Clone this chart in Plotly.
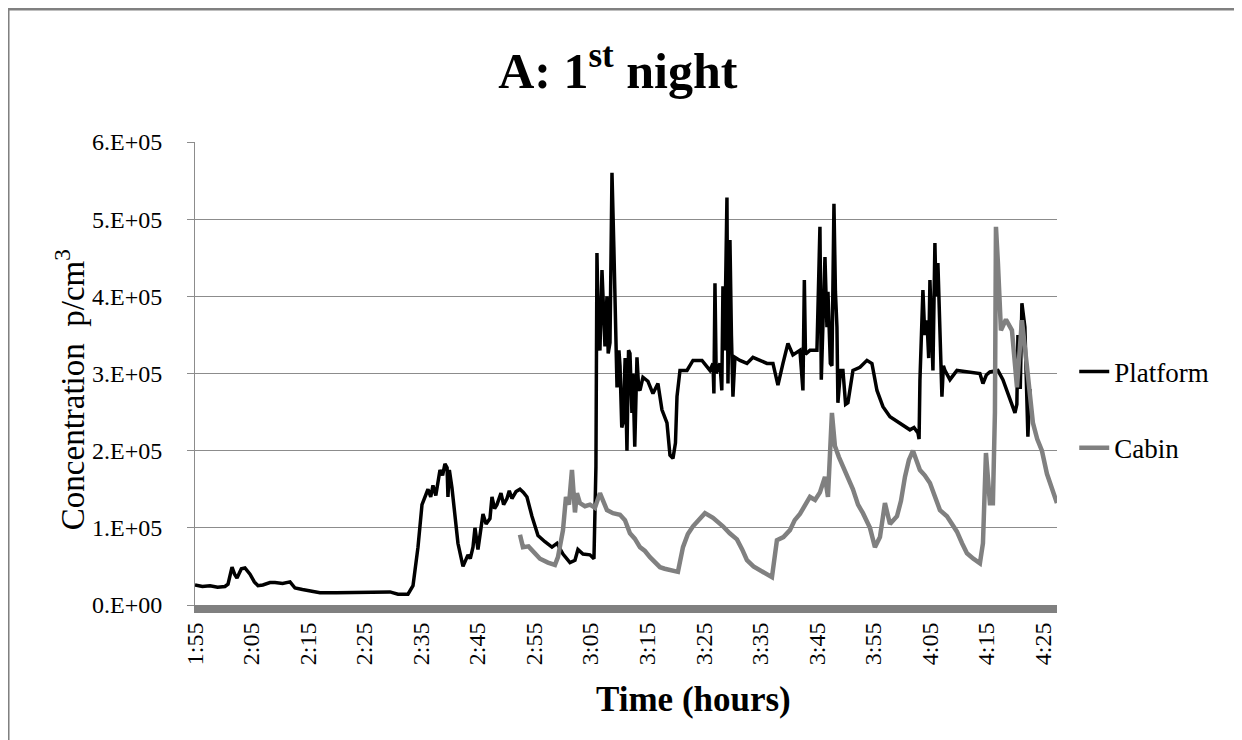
import plotly.graph_objects as go

# minutes after 1:55
platform_t = [0, 1.3, 2.65, 4, 5.3, 5.84, 6.55, 7.0, 7.43, 8.2, 8.84, 9.73, 10.5, 11.14, 12, 13.27,
              14.15, 15.5, 16.81, 17.69, 19, 20.34, 22.11, 25, 28, 30, 32.73, 34.5, 35.91, 37.68,
              38.57, 39.45, 40.16, 41.22, 41.7, 42.1, 42.6, 43.34, 43.8, 44.22, 44.6, 44.75, 45.0,
              45.46, 46.52, 47.41, 48.29, 48.7, 49.18, 49.53, 50.06, 50.95, 51.5, 52.18, 52.54,
              53.0, 53.42, 54.13, 54.6, 55.19, 55.6, 56.07, 56.8, 57.49, 58.1, 58.73, 59.61, 60.68,
              61.91, 63.15, 64.04, 65.1, 66.34, 67.22, 67.75, 68.64, 69.87, 70.58, 70.93, 71.11,
              71.4, 71.64, 72.0, 72.3, 72.53, 72.88, 73.1, 73.42, 73.77, 74.1, 74.3, 74.66, 75.0,
              75.19, 75.5, 75.72, 76.1, 76.42, 76.7, 76.95, 77.3, 77.48, 77.8, 78.19, 78.5, 78.72,
              79.25, 80.13, 81.02, 81.9, 82.61, 83.5, 84.03, 84.56, 85.0, 85.27, 85.8, 87.04, 88.1,
              89.69, 91.1, 91.64, 91.8, 91.99, 92.2, 92.87, 93.2, 93.4, 93.7, 94.11, 94.29, 94.64,
              94.9, 95.17, 95.52, 96.41, 97.65, 98.71, 99.95, 101.19, 102.25, 103.13, 104.02, 104.9,
              105.78, 107.02, 107.55, 107.8, 108.0, 108.79, 110.03, 110.56, 110.8, 111.45, 111.8,
              111.98, 112.4, 112.68, 113.04, 113.3, 113.57, 113.74, 114.2, 114.63, 115.1, 115.51,
              116.4, 117.64, 118.88, 119.76, 120.65, 121.71, 122.95, 124.71, 126.48, 127.2, 127.9,
              128.1, 128.25, 128.78, 129.1, 129.49, 129.8, 130.02, 130.3, 130.55, 130.9, 131.1,
              131.43, 131.8, 132.14, 132.4, 132.67, 133.56, 134.8, 135.86, 137.1, 138.86, 139.4,
              140.0, 140.63, 142.05, 142.93, 143.82, 145.06, 145.4, 145.59, 146.0, 146.29, 146.82,
              147.35, 147.7]
platform = [0.26, 0.24, 0.25, 0.23, 0.24, 0.27, 0.49, 0.40, 0.35, 0.47, 0.48, 0.40, 0.30, 0.25, 0.26,
            0.29, 0.29, 0.28, 0.30, 0.22, 0.20, 0.18, 0.16, 0.16, 0.16, 0.16, 0.16, 0.17, 0.14, 0.14,
            0.25, 0.75, 1.30, 1.50, 1.40, 1.55, 1.42, 1.75, 1.68, 1.83, 1.78, 1.40, 1.75, 1.52, 0.80,
            0.50, 0.65, 0.60, 0.75, 1.00, 0.72, 1.18, 1.05, 1.12, 1.40, 1.25, 1.30, 1.45, 1.30, 1.38,
            1.48, 1.38, 1.47, 1.50, 1.46, 1.40, 1.15, 0.90, 0.82, 0.75, 0.80, 0.66, 0.55, 0.58, 0.72,
            0.66, 0.65, 0.60, 1.79, 4.56, 3.40, 3.30, 4.34, 3.60, 3.35, 4.00, 3.26, 3.40, 5.60, 4.64,
            3.80, 2.82, 3.30, 3.10, 2.30, 2.36, 3.20, 2.00, 3.30, 3.26, 2.49, 3.00, 2.05, 3.21, 2.80,
            2.78, 2.95, 2.90, 2.74, 2.87, 2.53, 2.36, 1.94, 1.90, 2.10, 2.70, 3.04, 3.04, 3.17, 3.17,
            3.04, 3.13, 2.74, 4.17, 3.00, 3.13, 2.78, 4.13, 3.30, 5.28, 2.87, 4.73, 3.50, 2.70, 3.21,
            3.17, 3.13, 3.21, 3.17, 3.13, 3.13, 2.85, 3.13, 3.39, 3.24, 3.30, 2.78, 4.21, 3.25, 3.30,
            3.30, 4.90, 2.92, 4.51, 3.60, 4.06, 3.13, 3.10, 5.20, 4.06, 3.60, 2.62, 3.04, 3.04, 2.60,
            2.62, 3.04, 3.08, 3.17, 3.13, 2.78, 2.57, 2.44, 2.36, 2.27, 2.30, 2.23, 2.15, 2.91, 4.08,
            3.50, 3.69, 3.20, 4.21, 3.60, 3.04, 4.69, 4.00, 4.43, 3.60, 2.70, 3.10, 3.04, 2.92, 3.04,
            3.03, 3.02, 3.00, 2.87, 2.98, 3.02, 3.04, 2.92, 2.74, 2.49, 2.60, 3.50, 2.80, 3.91, 3.60,
            2.18, 2.80]

cabin_t = [57.49, 58.02, 59.0, 59.79, 61.03, 62.44, 63.68, 64.21, 65.1, 65.63, 66.16, 66.69, 67.22,
           67.57, 68.1, 68.99, 69.87, 70.76, 71.64, 72.88, 73.94, 75.19, 76.07, 76.95, 77.8, 78.72,
           79.6, 80.49, 81.4, 82.26, 83.1, 84.03, 85.44, 86.33, 87.2, 88.1, 89.34, 90.22, 91.64,
           92.5, 93.4, 94.6, 95.88, 96.8, 97.65, 98.8, 99.95, 101.0, 102.07, 102.95, 104.1, 105.25,
           106.1, 107.02, 107.9, 108.79, 109.7, 110.56, 111.45, 111.98, 112.68, 113.21, 113.9,
           114.63, 115.5, 116.4, 117.3, 118.17, 119.41, 120.29, 121.18, 122.06, 122.95, 124.19,
           124.9, 125.6, 126.3, 127.02, 128.25, 129.1, 130.02, 130.9, 131.79, 133.03, 134.0,
           134.8, 135.7, 136.57, 137.7, 138.86, 139.4, 139.93, 140.63, 141.16, 141.52, 141.7,
           142.05, 142.58, 143.47, 144.53, 145.42, 146.29, 147.17, 148.24, 149.0, 149.83, 150.72,
           151.78, 152.49]
cabin = [0.91, 0.75, 0.76, 0.70, 0.60, 0.55, 0.52, 0.62, 0.97, 1.40, 1.30, 1.75, 1.20, 1.45, 1.32,
         1.28, 1.30, 1.26, 1.45, 1.23, 1.19, 1.17, 1.10, 0.93, 0.86, 0.75, 0.70, 0.62, 0.55, 0.49,
         0.47, 0.45, 0.43, 0.75, 0.92, 1.02, 1.12, 1.19, 1.13, 1.08, 1.02, 0.93, 0.85, 0.72, 0.58,
         0.50, 0.45, 0.40, 0.36, 0.84, 0.88, 0.97, 1.10, 1.18, 1.30, 1.40, 1.36, 1.46, 1.66, 1.40,
         2.49, 2.06, 1.92, 1.80, 1.65, 1.50, 1.30, 1.19, 1.00, 0.75, 0.88, 1.32, 1.05, 1.15, 1.35,
         1.66, 1.88, 2.00, 1.75, 1.68, 1.58, 1.40, 1.23, 1.15, 1.05, 0.95, 0.80, 0.67, 0.60, 0.54,
         0.80, 1.97, 1.32, 1.32, 2.50, 4.90, 4.43, 3.56, 3.70, 3.56, 2.82, 3.69, 3.10, 2.36, 2.15,
         2.00, 1.70, 1.49, 1.32]

x_ticks = [0, 10, 20, 30, 40, 50, 60, 70, 80, 90, 100, 110, 120, 130, 140, 150]
x_labels = ["1:55", "2:05", "2:15", "2:25", "2:35", "2:45", "2:55", "3:05",
            "3:15", "3:25", "3:35", "3:45", "3:55", "4:05", "4:15", "4:25"]
y_ticks = [0, 1e5, 2e5, 3e5, 4e5, 5e5, 6e5]
y_labels = ["0.E+00", "1.E+05", "2.E+05", "3.E+05", "4.E+05", "5.E+05", "6.E+05"]

FONT = "Liberation Serif"
GRAY = "#808080"

fig = go.Figure()
fig.add_trace(go.Scatter(
    x=platform_t, y=[v * 1e5 for v in platform], mode="lines", name="Platform",
    legendgroup="p", line=dict(color="black", width=3.5),
))
fig.add_trace(go.Scatter(
    x=cabin_t, y=[v * 1e5 for v in cabin], mode="lines", name="Cabin",
    legendgroup="c", line=dict(color=GRAY, width=4.5),
))

fig.update_layout(
    width=1242, height=740,
    # page body has an 8px margin, so the figure is nudged up/left
    margin=dict(l=187, r=193, t=134, b=143),
    paper_bgcolor="white", plot_bgcolor="white",
    font=dict(family=FONT, color="black"),
    title=dict(text="<b>A: 1<sup>st</sup> night</b>", font=dict(family=FONT, size=50),
               x=0.491, xref="container", xanchor="center",
               y=0.916, yanchor="middle"),
    showlegend=True,
    legend=dict(x=1.02, xanchor="left", y=0.556, yanchor="top",
                font=dict(family=FONT, size=27), tracegroupgap=38, traceorder="grouped",
                bgcolor="rgba(0,0,0,0)"),
    xaxis=dict(range=[0, 152.5], tickvals=x_ticks, ticktext=x_labels, tickangle=-90,
               tickfont=dict(family=FONT, size=24), showgrid=False, zeroline=False,
               showline=True, linecolor=GRAY, linewidth=8, ticks=""),
    yaxis=dict(range=[0, 6e5], tickvals=y_ticks, ticktext=y_labels,
               tickfont=dict(family=FONT, size=24), showgrid=True, gridcolor="#8c8c8c",
               gridwidth=1, zeroline=False, showline=True, linecolor="#8c8c8c", linewidth=1,
               ticks="outside", ticklen=7, tickcolor="#8c8c8c", ticklabelstandoff=20),
    annotations=[
        dict(text="<b>Time (hours)</b>", xref="paper", yref="paper", x=0.578, y=-0.205,
             xanchor="center", yanchor="middle", showarrow=False,
             font=dict(family=FONT, size=35)),
        dict(text="Concentration\u00a0\u00a0p/cm<sup>3</sup>", xref="paper", yref="paper",
             x=-0.145, y=0.464, xanchor="center", yanchor="middle", textangle=-90,
             showarrow=False, font=dict(family=FONT, size=33)),
    ],
    shapes=[dict(type="rect", xref="paper", yref="paper",
                 x0=-0.2169, x1=1.4, y0=-0.5, y1=1.287,
                 line=dict(color=GRAY, width=3), layer="below")],
)

fig.write_html("out.html")
